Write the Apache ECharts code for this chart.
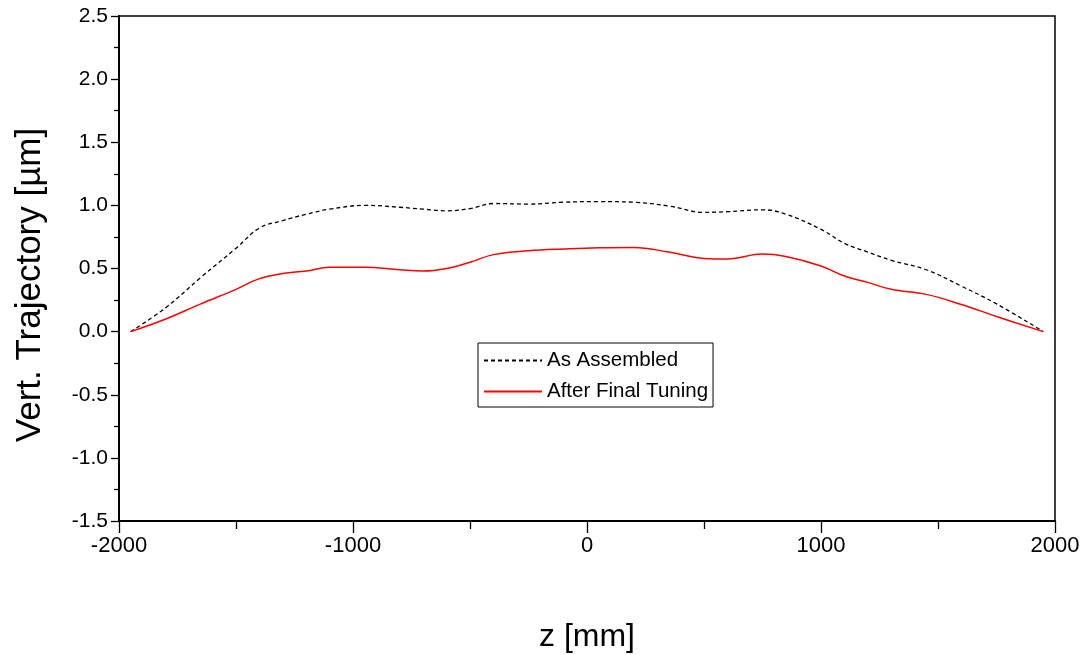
<!DOCTYPE html>
<html>
<head>
<meta charset="utf-8">
<script src="https://cdn.jsdelivr.net/npm/echarts@6/dist/echarts.min.js"></script>
<style>html,body{margin:0;padding:0;background:#fff;}#c{width:1086px;height:655px;}</style>
</head>
<body>
<div id="c"></div>
<script>
const zPos = [-1950,-1800,-1650,-1500,-1400,-1300,-1200,-1100,-950,-800,-700,-600,-500,-400,-250,-100,50,200,350,500,600,750,850,1000,1100,1200,1300,1450,1600,1750,1950];
const asAssembled = [0,0.19,0.43,0.66,0.82,0.88,0.93,0.97,1.0,0.985,0.97,0.957,0.975,1.015,1.01,1.025,1.03,1.025,0.995,0.945,0.95,0.965,0.93,0.81,0.70,0.63,0.565,0.49,0.36,0.22,0];
const afterTuning = [0,0.10,0.22,0.335,0.42,0.46,0.48,0.51,0.51,0.49,0.48,0.50,0.55,0.61,0.64,0.655,0.665,0.667,0.63,0.58,0.575,0.614,0.595,0.52,0.44,0.39,0.335,0.295,0.215,0.12,0];
const seriesNames = ['As Assembled','After Final Tuning'];
const xTicks = {min:-2000,max:2000,interval:1000};
const yTicks = {min:-1.5,max:2.5,interval:0.5};
const yTitle = 'Vert. Trajectory [\u00b5m]';
const xTitle = 'z [mm]';

const pair = (ys) => zPos.map((z,i)=>[z,ys[i]]);
const font = '"Liberation Sans",Arial,sans-serif';
const chart = echarts.init(document.getElementById('c'), null, {renderer:'canvas'});
chart.setOption({
  animation:false,
  backgroundColor:'#fff',
  grid:{left:119,right:31,top:16,bottom:134,show:true,borderColor:'#000',borderWidth:1.5,backgroundColor:'transparent',outerBoundsMode:'none',containLabel:false},
  legend:{
    orient:'vertical',left:478,top:343,
    data:seriesNames,
    borderColor:'#000',borderWidth:1,borderRadius:0,
    padding:[7,5,5,5],itemGap:10,itemWidth:58,itemHeight:21,
    itemStyle:{opacity:0},
    textStyle:{fontFamily:font,fontSize:20.5,color:'#000'},
    backgroundColor:'#fff'
  },
  graphic:[{type:'text',rotation:Math.PI/2,x:30,y:285,
    style:{text:yTitle,font:'35px '+font,fill:'#000',textAlign:'center',textVerticalAlign:'middle'}}],
  xAxis:{
    type:'value',min:xTicks.min,max:xTicks.max,interval:xTicks.interval,
    name:xTitle,nameLocation:'middle',nameGap:100,
    nameTextStyle:{fontFamily:font,fontSize:32,color:'#000'},
    axisLine:{show:true,onZero:false,lineStyle:{color:'#000',width:2}},
    axisTick:{show:true,inside:false,length:12,lineStyle:{color:'#000',width:1.3}},
    minorTick:{show:true,splitNumber:2,length:8,lineStyle:{color:'#000',width:1.3}},
    axisLabel:{fontFamily:font,fontSize:22,color:'#000',margin:14,formatter:v=>String(v)},
    splitLine:{show:false}
  },
  yAxis:{
    type:'value',min:yTicks.min,max:yTicks.max,interval:yTicks.interval,
    axisLine:{show:true,onZero:false,lineStyle:{color:'#000',width:2}},
    axisTick:{show:true,inside:false,length:8,lineStyle:{color:'#000',width:1.3}},
    minorTick:{show:true,splitNumber:2,length:5,lineStyle:{color:'#000',width:1.3}},
    axisLabel:{fontFamily:font,fontSize:21,color:'#000',margin:11,formatter:v=>v.toFixed(1)},
    splitLine:{show:false}
  },
  series:[
    {name:seriesNames[0],type:'line',data:pair(asAssembled),smooth:0.4,showSymbol:false,symbol:'none',
     lineStyle:{color:'#000',width:1.3,type:[4,3]},itemStyle:{color:'#000'}},
    {name:seriesNames[1],type:'line',data:pair(afterTuning),smooth:0.4,showSymbol:false,symbol:'none',
     lineStyle:{color:'#ff0000',width:1.5},itemStyle:{color:'#ff0000'}}
  ]
});
</script>
</body>
</html>
